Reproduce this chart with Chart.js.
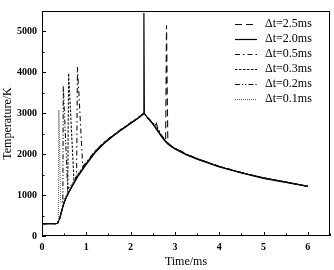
<!DOCTYPE html>
<html>
<head>
<meta charset="utf-8">
<script src="https://cdn.jsdelivr.net/npm/chart.js@4.4.1/dist/chart.umd.min.js"></script>
<style>
html,body{margin:0;padding:0;background:#fff;}
#wrap{width:334px;height:270px;position:relative;}
</style>
</head>
<body>
<div id="wrap"><canvas id="c" width="334" height="270"></canvas></div>
<script>
// ---- data ----
const seriesLabels = ['\u0394t=2.5ms', '\u0394t=2.0ms', '\u0394t=0.5ms', '\u0394t=0.3ms', '\u0394t=0.2ms', '\u0394t=0.1ms'];

const xTicks = [0, 1, 2, 3, 4, 5, 6];
const yTicks = [0, 1000, 2000, 3000, 4000, 5000];

// Δt = 2.5 ms
const t25 = [0, 0.3, 0.35, 0.4, 0.45, 0.5, 0.55, 0.6, 0.7, 0.8, 0.9, 1.0, 1.2, 1.4, 1.6, 1.8, 2.0, 2.2, 2.3, 2.4, 2.5, 2.6, 2.7, 2.79, 2.81, 2.84, 2.9, 3.0, 3.25, 3.5, 4.0, 4.5, 5.0, 5.5, 6.0];
const T25 = [300, 300, 310, 430, 640, 820, 950, 1060, 1270, 1460, 1620, 1770, 2060, 2280, 2450, 2600, 2760, 2910, 3000, 2870, 2750, 2600, 2440, 2300, 5150, 2250, 2200, 2140, 2000, 1890, 1700, 1550, 1420, 1320, 1215];

// Δt = 2.0 ms
const t20 = [0, 0.3, 0.35, 0.4, 0.45, 0.5, 0.55, 0.6, 0.7, 0.8, 0.9, 1.0, 1.2, 1.4, 1.6, 1.8, 2.0, 2.2, 2.29, 2.3, 2.31, 2.4, 2.5, 2.6, 2.7, 2.8, 2.9, 3.0, 3.25, 3.5, 4.0, 4.5, 5.0, 5.5, 6.0];
const T20 = [300, 300, 310, 430, 640, 820, 950, 1060, 1250, 1440, 1600, 1750, 2040, 2260, 2440, 2600, 2750, 2900, 2990, 5450, 3000, 2860, 2740, 2580, 2420, 2290, 2200, 2130, 1990, 1880, 1690, 1540, 1410, 1310, 1210];

// Δt = 0.5 ms
const t05 = [0, 0.3, 0.35, 0.4, 0.45, 0.5, 0.55, 0.6, 0.7, 0.78, 0.8, 0.92, 1.0, 1.2, 1.4, 1.6, 1.8, 2.0, 2.2, 2.3, 2.4, 2.5, 2.55, 2.58, 2.62, 2.7, 2.8, 2.9, 3.0, 3.25, 3.5, 4.0, 4.5, 5.0, 5.5, 6.0];
const T05 = [300, 300, 310, 430, 640, 820, 950, 1060, 1270, 1420, 4130, 1700, 1800, 2080, 2290, 2460, 2620, 2770, 2920, 3000, 2880, 2770, 2720, 2760, 2620, 2460, 2320, 2220, 2150, 2010, 1890, 1700, 1550, 1420, 1320, 1215];

// Δt = 0.3 ms
const t03 = [0, 0.3, 0.35, 0.4, 0.45, 0.5, 0.55, 0.58, 0.6, 0.72, 0.8, 0.9, 1.0, 1.2, 1.4, 1.6, 1.8, 2.0, 2.2, 2.3, 2.4, 2.5, 2.54, 2.57, 2.62, 2.7, 2.8, 2.9, 3.0, 3.25, 3.5, 4.0, 4.5, 5.0, 5.5, 6.0];
const T03 = [300, 300, 310, 430, 640, 820, 950, 1020, 3980, 1380, 1490, 1640, 1790, 2070, 2280, 2450, 2610, 2760, 2910, 3000, 2870, 2760, 2700, 2730, 2600, 2450, 2310, 2210, 2140, 2000, 1890, 1700, 1550, 1420, 1320, 1215];

// Δt = 0.2 ms
const t02 = [0, 0.3, 0.35, 0.4, 0.45, 0.47, 0.48, 0.58, 0.7, 0.8, 0.9, 1.0, 1.2, 1.4, 1.6, 1.8, 2.0, 2.2, 2.3, 2.4, 2.5, 2.6, 2.7, 2.8, 2.9, 3.0, 3.25, 3.5, 4.0, 4.5, 5.0, 5.5, 6.0];
const T02 = [300, 300, 310, 430, 640, 720, 3670, 1150, 1300, 1470, 1630, 1780, 2070, 2280, 2450, 2610, 2760, 2910, 3000, 2870, 2750, 2600, 2440, 2300, 2210, 2140, 2000, 1890, 1700, 1550, 1420, 1320, 1215];

// Δt = 0.1 ms
const t01 = [0, 0.3, 0.35, 0.37, 0.38, 0.42, 0.5, 0.6, 0.7, 0.8, 0.9, 1.0, 1.2, 1.4, 1.6, 1.8, 2.0, 2.2, 2.3, 2.4, 2.5, 2.6, 2.7, 2.8, 2.9, 3.0, 3.25, 3.5, 4.0, 4.5, 5.0, 5.5, 6.0];
const T01 = [300, 300, 310, 380, 3080, 800, 900, 1100, 1290, 1460, 1620, 1770, 2060, 2280, 2450, 2600, 2760, 2910, 3000, 2870, 2750, 2600, 2440, 2300, 2210, 2140, 2000, 1890, 1700, 1550, 1420, 1320, 1215];

// ---- styles ----
const dashes = [[7, 4], [], [5, 3, 1.5, 3], [2.5, 1.5], [5, 2, 1.2, 2, 1.2, 2], [1, 1]];
const colors = ['#111', '#000', '#111', '#111', '#111', '#666'];
const widths = [1.1, 1.2, 1.1, 1.1, 1.1, 1];

function pts(t, T) { return t.map((v, i) => ({x: v, y: T[i]})); }
const seriesX = [t25, t20, t05, t03, t02, t01];
const seriesY = [T25, T20, T05, T03, T02, T01];

const datasets = seriesLabels.map((lab, i) => ({
  label: lab,
  data: pts(seriesX[i], seriesY[i]),
  showLine: true,
  borderColor: colors[i],
  borderWidth: widths[i],
  borderDash: dashes[i],
  pointRadius: 0,
  tension: 0,
  fill: false
}));

const FONT = "'Liberation Serif', 'Times New Roman', serif";

// frame, inward ticks, legend
const framePlugin = {
  id: 'frame',
  afterDatasetsDraw(chart) {
    const ctx = chart.ctx, a = chart.chartArea;
    const xs = chart.scales.x, ys = chart.scales.y;
    ctx.save();
    ctx.strokeStyle = '#000';
    ctx.lineWidth = 1;
    ctx.setLineDash([]);
    ctx.strokeRect(Math.round(a.left) + 0.5, Math.round(a.top) + 0.5, Math.round(a.right - a.left) - 1, Math.round(a.bottom - a.top) - 1);
    ctx.beginPath();
    for (let v = 0; v <= 6.5 + 1e-9; v += 0.5) {
      const px = Math.round(xs.getPixelForValue(v)) + 0.5;
      const len = (Math.abs(v - Math.round(v)) < 1e-9) ? 4 : 2.5;
      ctx.moveTo(px, a.bottom);
      ctx.lineTo(px, a.bottom - len);
    }
    for (let v = 0; v <= 5500 + 1e-9; v += 500) {
      const py = Math.round(ys.getPixelForValue(v)) + 0.5;
      const len = (v % 1000 === 0) ? 4 : 2.5;
      ctx.moveTo(a.left, py);
      ctx.lineTo(a.left + len, py);
    }
    ctx.stroke();

    // legend inside the plot
    const x0 = 235, x1 = 257, tx = 265, y0 = 24, dy = 15;
    ctx.font = '12px ' + FONT;
    ctx.textBaseline = 'middle';
    ctx.fillStyle = '#000';
    chart.data.datasets.forEach((ds, i) => {
      const y = y0 + i * dy + 0.5;
      ctx.beginPath();
      ctx.strokeStyle = ds.borderColor;
      ctx.lineWidth = ds.borderWidth;
      ctx.setLineDash(ds.borderDash);
      ctx.moveTo(x0, y);
      ctx.lineTo(x1, y);
      ctx.stroke();
      ctx.fillText(ds.label, tx, y0 + i * dy);
    });
    ctx.restore();
  }
};

new Chart(document.getElementById('c'), {
  type: 'scatter',
  data: {datasets},
  options: {
    responsive: false,
    animation: false,
    devicePixelRatio: 1,
    layout: {padding: {left: 0, right: 4, top: 4, bottom: 0}},
    plugins: {legend: {display: false}, tooltip: {enabled: false}},
    scales: {
      x: {
        type: 'linear', min: 0, max: 6.5,
        afterFit(s) { s.height = 34; },
        afterBuildTicks(s) { s.ticks = xTicks.map(v => ({value: v})); },
        grid: {display: false, drawTicks: false, tickLength: 0},
        border: {display: false},
        ticks: {font: {family: FONT, size: 10, weight: 'bold'}, color: '#000', padding: 5, maxRotation: 0, autoSkip: false, callback: v => String(v)},
        title: {display: true, text: 'Time/ms', font: {family: FONT, size: 12}, color: '#000', padding: {top: 0, bottom: 1}}
      },
      y: {
        type: 'linear', min: 0, max: 5500,
        afterFit(s) { s.width = 42; },
        afterBuildTicks(s) { s.ticks = yTicks.map(v => ({value: v})); },
        grid: {display: false, drawTicks: false, tickLength: 0},
        border: {display: false},
        ticks: {font: {family: FONT, size: 10, weight: 'bold'}, color: '#000', padding: 5, autoSkip: false, callback: v => String(v)},
        title: {display: true, text: 'Temperature/K', font: {family: FONT, size: 12}, color: '#000', padding: {top: 1, bottom: 0}}
      }
    }
  },
  plugins: [framePlugin]
});
</script>
</body>
</html>
